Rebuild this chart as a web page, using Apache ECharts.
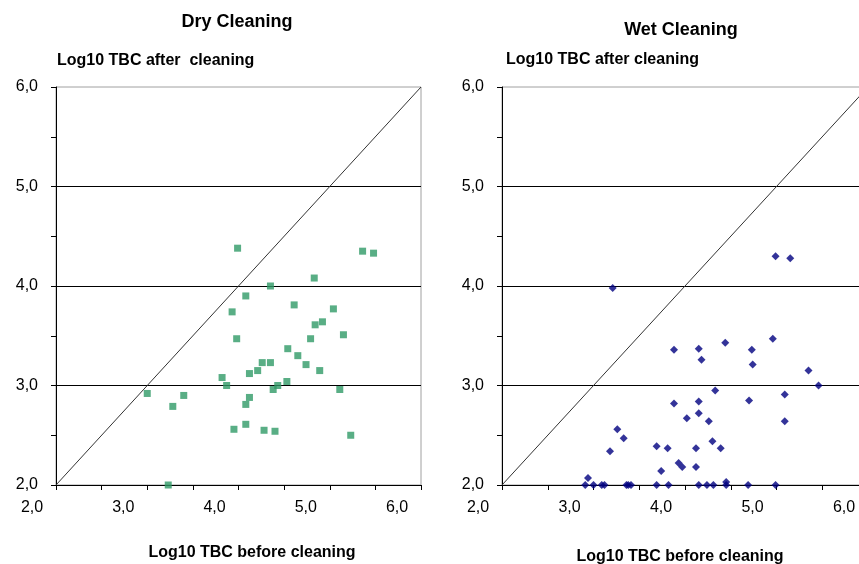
<!DOCTYPE html>
<html>
<head>
<meta charset="utf-8">
<script src="https://cdn.jsdelivr.net/npm/echarts@6/dist/echarts.min.js"></script>
<style>
  html, body { margin: 0; padding: 0; overflow: hidden; background: #fff; width: 859px; height: 564px; }
  /* the right panel runs past the window edge, as in the original */
  #chart { width: 880px; height: 564px; }
</style>
</head>
<body>
<div id="chart"></div>
<script>
// Dry cleaning: log10 TBC before / after
const dryX = [3.99, 5.36, 5.48, 4.83, 4.35, 4.08, 4.61, 5.04, 3.93, 4.92, 4.84, 4.79, 3.98, 5.15, 4.54, 4.65, 4.74, 4.89, 4.26, 4.35,
  4.21, 4.12, 3.82, 3.87, 4.53, 4.43, 4.38, 5.11, 3.00, 3.40, 3.28, 4.12, 4.08, 3.95, 4.08, 4.28, 4.40, 5.23, 3.23];
const dryY = [4.38, 4.35, 4.33, 4.08, 4.00, 3.90, 3.81, 3.77, 3.74, 3.64, 3.61, 3.47, 3.47, 3.51, 3.37, 3.30, 3.21, 3.15, 3.23, 3.23,
  3.15, 3.12, 3.08, 3.00, 3.04, 3.00, 2.96, 2.96, 2.92, 2.90, 2.79, 2.88, 2.81, 2.56, 2.61, 2.55, 2.54, 2.50, 2.00];

// Wet cleaning
const wetX = [4.99, 5.15, 3.21, 4.96, 4.44, 3.88, 4.15, 4.73, 4.18, 4.74, 5.35, 5.46, 4.33, 5.09, 3.88, 4.15, 4.70, 4.15, 4.02, 4.26,
  5.09, 3.26, 3.33, 3.18, 3.69, 3.81, 4.12, 4.30, 4.39, 3.74, 3.93, 3.97, 4.12, 2.94, 4.45,
  2.91, 3.00, 3.09, 3.12, 3.36, 3.38, 3.41, 3.69, 3.82, 4.15, 4.24, 4.31, 4.45, 4.69, 4.99];
const wetY = [4.30, 4.28, 3.98, 3.47, 3.43, 3.36, 3.37, 3.36, 3.26, 3.21, 3.15, 3.00, 2.95, 2.91, 2.82, 2.84, 2.85, 2.72, 2.67, 2.64,
  2.64, 2.56, 2.47, 2.34, 2.39, 2.37, 2.37, 2.44, 2.37, 2.14, 2.22, 2.18, 2.18, 2.07, 2.03,
  2.00, 2.00, 2.00, 2.00, 2.00, 2.00, 2.00, 2.00, 2.00, 2.00, 2.00, 2.00, 2.00, 2.00, 2.00];

// y = x reference line
const diagonal = [[2, 2], [6, 6]];

const FONT = 'Liberation Sans, Arial, sans-serif';
const fmt = v => v.toFixed(1).replace('.', ',');

const pairs = (xs, ys) => xs.map((x, i) => [x, ys[i]]);

function xAx(gridIndex) {
  return {
    type: 'value', gridIndex, min: 2, max: 6, interval: 1,
    axisLine: { show: true, onZero: false, lineStyle: { color: '#000', width: 1 } },
    axisTick: { show: true, length: 5, lineStyle: { color: '#000' } },
    minorTick: { show: true, splitNumber: 2, length: 5, lineStyle: { color: '#000' } },
    splitLine: { show: false },
    axisLabel: {
      formatter: fmt, color: '#000', fontFamily: FONT, fontSize: 16, margin: 15,
      padding: [0, 48, 0, 0], showMinLabel: true, showMaxLabel: true
    }
  };
}

function yAx(gridIndex) {
  return {
    type: 'value', gridIndex, min: 2, max: 6, interval: 1,
    axisLine: { show: true, onZero: false, lineStyle: { color: '#000', width: 1 } },
    axisTick: { show: true, length: 5, lineStyle: { color: '#000' } },
    minorTick: { show: true, splitNumber: 2, length: 5, lineStyle: { color: '#000' } },
    splitLine: { show: true, showMinLine: false, showMaxLine: false, lineStyle: { color: '#000', width: 1 } },
    axisLabel: { formatter: fmt, color: '#000', fontFamily: FONT, fontSize: 16, margin: 18 }
  };
}

function label(text, x, y, size, align) {
  return {
    type: 'text', x, y,
    style: {
      text, fill: '#000', font: 'bold ' + size + 'px ' + FONT,
      textAlign: align || 'center', textVerticalAlign: 'middle'
    }
  };
}

const chart = echarts.init(document.getElementById('chart'));
chart.setOption({
  animation: false,
  backgroundColor: '#fff',
  grid: [
    { left: 56, top: 87, width: 365, height: 398, show: true, borderColor: '#a0a0a0', borderWidth: 1 },
    { left: 502, top: 87, width: 366, height: 398, show: true, borderColor: '#a0a0a0', borderWidth: 1 }
  ],
  xAxis: [xAx(0), xAx(1)],
  yAxis: [yAx(0), yAx(1)],
  graphic: [
    label('Dry Cleaning', 237, 22, 18),
    label('Wet Cleaning', 681, 30, 18),
    label('Log10 TBC after  cleaning', 57, 61, 16, 'left'),
    label('Log10 TBC after cleaning', 506, 60, 16, 'left'),
    label('Log10 TBC before cleaning', 252, 553, 16),
    label('Log10 TBC before cleaning', 680, 557, 16)
  ],
  series: [
    {
      type: 'line', xAxisIndex: 0, yAxisIndex: 0, data: diagonal, symbol: 'none', z: 1,
      lineStyle: { color: '#333', width: 1 }
    },
    {
      type: 'line', xAxisIndex: 1, yAxisIndex: 1, data: diagonal, symbol: 'none', z: 1,
      lineStyle: { color: '#333', width: 1 }
    },
    {
      type: 'scatter', xAxisIndex: 0, yAxisIndex: 0, data: pairs(dryX, dryY),
      symbol: 'rect', symbolSize: 7, itemStyle: { color: '#2f9a66' }, z: 3
    },
    {
      type: 'scatter', xAxisIndex: 1, yAxisIndex: 1, data: pairs(wetX, wetY),
      symbol: 'diamond', symbolSize: 8, itemStyle: { color: '#000080' }, z: 3
    }
  ]
});
</script>
</body>
</html>
